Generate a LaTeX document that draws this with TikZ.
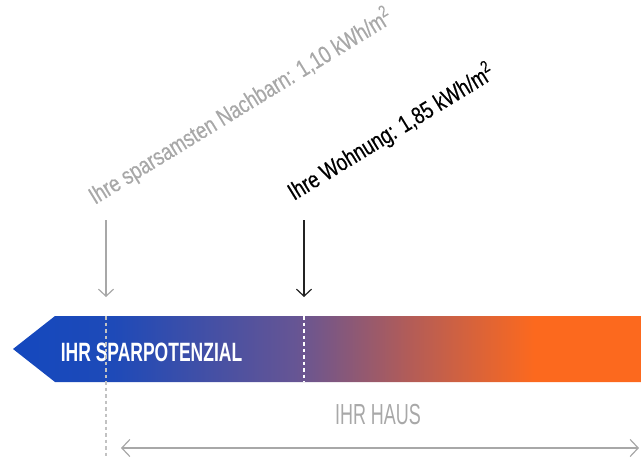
\documentclass[tikz,border=0pt]{standalone}
\usepackage{fontspec}
\setmainfont{Liberation Sans}
\newfontfamily\condfont[FakeStretch=0.78, FakeBold=0.4]{Liberation Sans}
\newfontfamily\narrowfont[FakeStretch=0.62]{Liberation Sans}
\newfontfamily\sparfont[FakeStretch=0.66]{Liberation Sans}
\usetikzlibrary{arrows.meta}

\definecolor{sblue}{RGB}{20,72,190}
\definecolor{sblue2}{RGB}{30,74,184}
\definecolor{spurple}{RGB}{102,85,148}
\definecolor{sbrown}{RGB}{178,92,88}
\definecolor{sorange}{RGB}{252,105,30}
\definecolor{lightgrey}{RGB}{168,168,168}
\definecolor{darkline}{RGB}{35,35,35}

\pgfdeclarehorizontalshading{sparbar}{100bp}{color(0bp)=(sblue); color(25bp)=(sblue); color(33bp)=(sblue2); color(47.5bp)=(spurple); color(56.5bp)=(sbrown); color(66.5bp)=(sorange); color(100bp)=(sorange)}

\begin{document}
\begin{tikzpicture}[
    x=1pt, y=-1pt,
    schild/.style={font=\condfont\fontsize{24}{24}\selectfont, anchor=base west, inner sep=0pt, rotate=31.5},
    pfeil/.style={line width=1.2pt, -{Straight Barb[length=7pt, width=15pt, line width=1.2pt]}},
    marke/.style={line width=1.2pt, dash pattern=on 3.5pt off 3pt}
  ]
    \useasboundingbox (0,0) rectangle (641,458);

    % Balken
    \shade[shading=sparbar] (13,349) -- (55,316) -- (641,316) -- (641,382) -- (55,382) -- cycle;
    \node[text=white, font=\sparfont\bfseries\fontsize{26.5}{26.5}\selectfont] (spar) at (151.5,352) {IHR SPARPOTENZIAL};

    % Beschriftungen
    \node[schild, text=lightgrey] (nachbar) at (95,205) {Ihre sparsamsten Nachbarn: 1,10 kWh/m\textsuperscript{2}};
    \node[schild, text=black] (wohnung) at (294,201) {Ihre Wohnung: 1,85 kWh/m\textsuperscript{2}};

    % Markierungen
    \coordinate (nbtop) at (106,220);
    \coordinate (nbbot) at (106,297);
    \coordinate (wotop) at (304,220);
    \coordinate (wobot) at (304,297);
    \coordinate (nbbar) at (106,316);
    \coordinate (nbend) at (106,458);
    \coordinate (wobar) at (304,316);
    \coordinate (woend) at (304,382);

    \draw[pfeil, lightgrey] (nbtop) -- (nbbot);
    \draw[pfeil, darkline] (wotop) -- (wobot);
    \draw[marke, lightgrey!70] (nbbar) -- (nbend);
    \draw[marke, white] (wobar) -- (woend);

    % Haus
    \node[text=lightgrey, font=\narrowfont\fontsize{29}{29}\selectfont] (haus) at (378,415) {IHR HAUS};
    \coordinate (hauslinks) at (121,448);
    \coordinate (hausrechts) at (639,448);
    \draw[line width=1.2pt, lightgrey, {Straight Barb[length=8pt, width=17pt, line width=1.2pt]}-{Straight Barb[length=8pt, width=17pt, line width=1.2pt]}] (hauslinks) -- (hausrechts);
  \end{tikzpicture}
\end{document}
